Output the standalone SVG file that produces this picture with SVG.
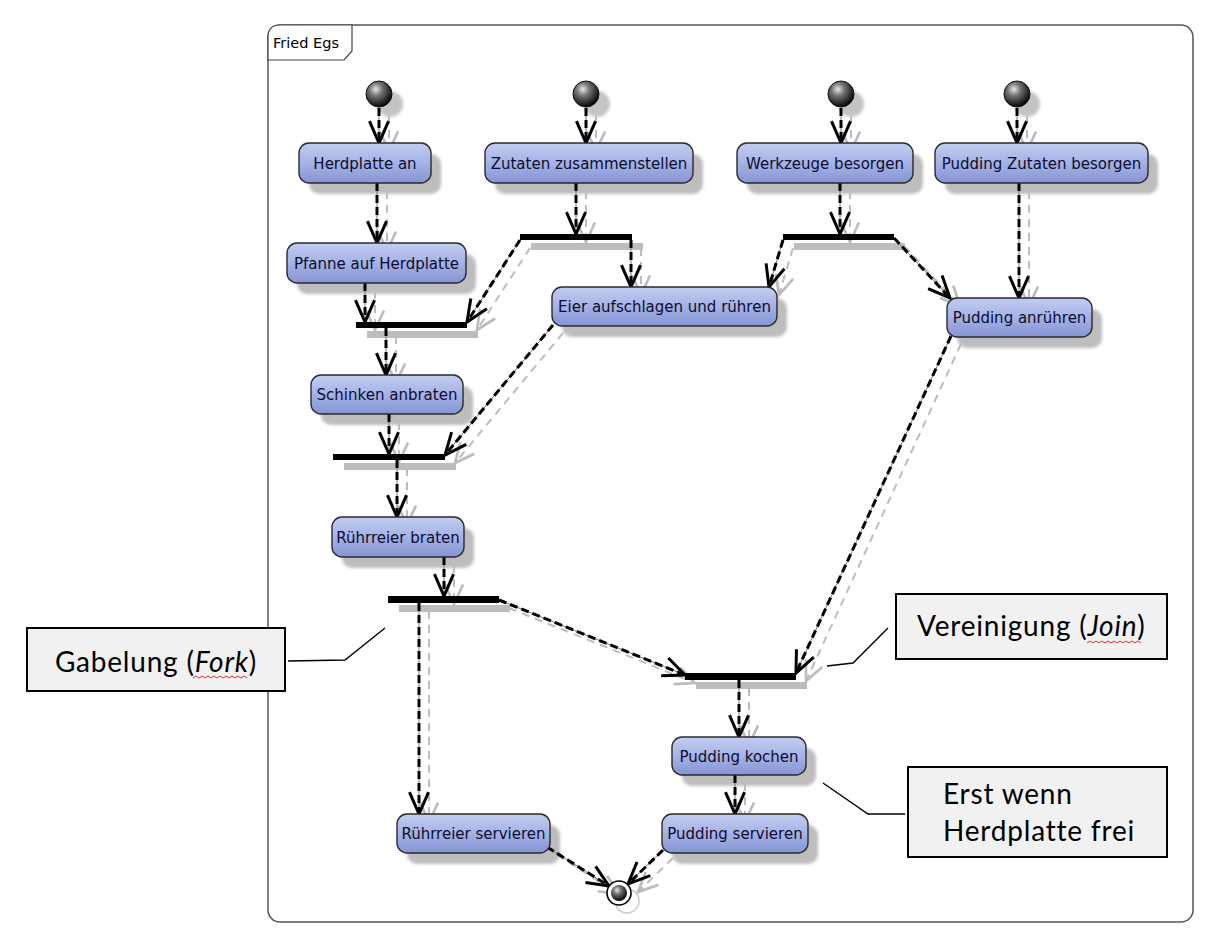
<svg xmlns="http://www.w3.org/2000/svg" xmlns:xlink="http://www.w3.org/1999/xlink" width="1214" height="948" viewBox="0 0 1214 948">
<style>
.frame{fill:#fff;stroke:#555;stroke-width:1.5}
.tab{fill:#fff;stroke:#444;stroke-width:1.2}
.title{font-family:"DejaVu Sans",sans-serif;font-size:14.5px;fill:#000}
.nshadow{fill:#bdbdbd;filter:url(#blur)}
.node{fill:url(#ng);stroke:#2a2a2a;stroke-width:1.4}
.lbl{font-family:"DejaVu Sans",sans-serif;font-size:15px;fill:#0c0c2c;text-anchor:middle}
.bar{fill:#000}
.barsh{fill:#bdbdbd}
.sh{fill:none;stroke:#bcbcbc;stroke-width:2;stroke-dasharray:8 6;marker-end:url(#ahg)}
.base{fill:none;stroke:#777;stroke-width:1}
.dash{fill:none;stroke:#000;stroke-width:3;stroke-dasharray:8 4;marker-end:url(#ah)}
.note{fill:#f1f1f1;stroke:#000;stroke-width:2}
.ntxt{font-family:Lato,"Open Sans",sans-serif;font-size:28px;letter-spacing:0.8px;fill:#000}
.lead{fill:none;stroke:#000;stroke-width:1.4}
.squig{fill:none;stroke:#e03030;stroke-width:1}
</style>
<defs>
<linearGradient id="ng" x1="0" y1="0" x2="0" y2="1">
<stop offset="0" stop-color="#c3cdf1"/>
<stop offset="0.5" stop-color="#a5b2e6"/>
<stop offset="1" stop-color="#8595d4"/>
</linearGradient>
<radialGradient id="ball" cx="0.38" cy="0.32" r="0.7">
<stop offset="0" stop-color="#e8e8e8"/>
<stop offset="0.35" stop-color="#777"/>
<stop offset="1" stop-color="#000"/>
</radialGradient>
<filter id="blur" x="-10%" y="-20%" width="120%" height="140%"><feGaussianBlur stdDeviation="1.5"/></filter>
<marker id="ah" markerUnits="userSpaceOnUse" markerWidth="30" markerHeight="30" viewBox="-18 -10 22 20" refX="0" refY="0" orient="auto">
<path d="M-16,-7 L0,0 L-16,7" fill="none" stroke="#000" stroke-width="2.2" stroke-dasharray="none"/>
</marker>
<marker id="ahg" markerUnits="userSpaceOnUse" markerWidth="30" markerHeight="30" viewBox="-16 -10 20 20" refX="0" refY="0" orient="auto">
<path d="M-13,-6 L0,0 L-13,6" fill="none" stroke="#bcbcbc" stroke-width="1.8" stroke-dasharray="none"/>
</marker>
<path id="c1" d="M379,108 L379,143"/>
<path id="c2" d="M586,108 L586,143"/>
<path id="c3" d="M841,108 L841,143"/>
<path id="c4" d="M1017,108 L1017,143"/>
<path id="c5" d="M377,183 L377,243"/>
<path id="c6" d="M576,183 L576,234"/>
<path id="c7" d="M631,240 L631,287"/>
<path id="c8" d="M520,240 L467,322"/>
<path id="c9" d="M365,283 L365,322"/>
<path id="c10" d="M840,183 L840,234"/>
<path id="c11" d="M783,240 L769,287"/>
<path id="c12" d="M894,238 L950,298"/>
<path id="c13" d="M1019,183 L1019,298"/>
<path id="c14" d="M386,328 L386,375"/>
<path id="c15" d="M389,414 L389,454"/>
<path id="c16" d="M553,325 L445,455"/>
<path id="c17" d="M397,460 L397,517"/>
<path id="c18" d="M444,557 L444,596"/>
<path id="c19" d="M419,603 L419,814"/>
<path id="c20" d="M499,600 L685,675"/>
<path id="c21" d="M951,336 L796,673"/>
<path id="c22" d="M739,680 L739,737"/>
<path id="c23" d="M735,775 L735,814"/>
<path id="c24" d="M547,847 L609,886"/>
<path id="c25" d="M663,850 L628,884"/>
</defs>

<g id="frame">
<rect class="frame" x="268" y="25" width="925" height="897" rx="12"/>
<path class="tab" d="M268,60 L268,37 Q268,25 280,25 L352,25 L352,51 L344,60 Z"/>
<text class="title" x="273" y="48">Fried Egs</text>
</g>

<g id="shadows">
<circle cx="390" cy="104" r="13" fill="#c4c4c4" filter="url(#blur)"/>
<circle cx="597" cy="104" r="13" fill="#c4c4c4" filter="url(#blur)"/>
<circle cx="851" cy="104" r="13" fill="#c4c4c4" filter="url(#blur)"/>
<circle cx="1027" cy="104" r="13" fill="#c4c4c4" filter="url(#blur)"/>
<rect class="nshadow" x="309" y="154" width="132" height="40" rx="10"/>
<rect class="nshadow" x="495" y="154" width="208" height="40" rx="10"/>
<rect class="nshadow" x="747" y="154" width="176" height="40" rx="10"/>
<rect class="nshadow" x="945" y="154" width="213" height="40" rx="10"/>
<rect class="nshadow" x="297" y="254" width="179" height="40" rx="10"/>
<rect class="nshadow" x="562" y="298" width="225" height="39" rx="10"/>
<rect class="nshadow" x="957" y="309" width="145" height="39" rx="10"/>
<rect class="nshadow" x="321" y="386" width="152" height="39" rx="10"/>
<rect class="nshadow" x="342" y="528" width="132" height="40" rx="10"/>
<rect class="nshadow" x="682" y="748" width="134" height="38" rx="10"/>
<rect class="nshadow" x="407" y="825" width="153" height="39" rx="10"/>
<rect class="nshadow" x="672" y="825" width="146" height="39" rx="10"/>
<rect class="barsh" x="531" y="243" width="112" height="7"/>
<rect class="barsh" x="794" y="243" width="111" height="7"/>
<rect class="barsh" x="367" y="331" width="111" height="7"/>
<rect class="barsh" x="344" y="463" width="112" height="7"/>
<rect class="barsh" x="399" y="605" width="111" height="7"/>
<rect class="barsh" x="696" y="682" width="111" height="7"/>
<circle cx="627" cy="901" r="12" fill="none" stroke="#c8c8c8" stroke-width="1.5"/>
</g>

<g id="connectors">
<g id="connector-shadows" transform="translate(10,8)">
<use xlink:href="#c1" class="sh"/><use xlink:href="#c2" class="sh"/><use xlink:href="#c3" class="sh"/><use xlink:href="#c4" class="sh"/>
<use xlink:href="#c5" class="sh"/><use xlink:href="#c6" class="sh"/><use xlink:href="#c7" class="sh"/><use xlink:href="#c8" class="sh"/>
<use xlink:href="#c9" class="sh"/><use xlink:href="#c10" class="sh"/><use xlink:href="#c11" class="sh"/><use xlink:href="#c12" class="sh"/>
<use xlink:href="#c13" class="sh"/><use xlink:href="#c14" class="sh"/><use xlink:href="#c15" class="sh"/><use xlink:href="#c16" class="sh"/>
<use xlink:href="#c17" class="sh"/><use xlink:href="#c18" class="sh"/><use xlink:href="#c19" class="sh"/><use xlink:href="#c20" class="sh"/>
<use xlink:href="#c21" class="sh"/><use xlink:href="#c22" class="sh"/><use xlink:href="#c23" class="sh"/><use xlink:href="#c24" class="sh"/>
<use xlink:href="#c25" class="sh"/>
</g>
<g id="connector-base">
<use xlink:href="#c1" class="base"/><use xlink:href="#c2" class="base"/><use xlink:href="#c3" class="base"/><use xlink:href="#c4" class="base"/>
<use xlink:href="#c5" class="base"/><use xlink:href="#c6" class="base"/><use xlink:href="#c7" class="base"/><use xlink:href="#c8" class="base"/>
<use xlink:href="#c9" class="base"/><use xlink:href="#c10" class="base"/><use xlink:href="#c11" class="base"/><use xlink:href="#c12" class="base"/>
<use xlink:href="#c13" class="base"/><use xlink:href="#c14" class="base"/><use xlink:href="#c15" class="base"/><use xlink:href="#c16" class="base"/>
<use xlink:href="#c17" class="base"/><use xlink:href="#c18" class="base"/><use xlink:href="#c19" class="base"/><use xlink:href="#c20" class="base"/>
<use xlink:href="#c21" class="base"/><use xlink:href="#c22" class="base"/><use xlink:href="#c23" class="base"/><use xlink:href="#c24" class="base"/>
<use xlink:href="#c25" class="base"/>
</g>
<g id="connector-lines">
<use xlink:href="#c1" class="dash"/><use xlink:href="#c2" class="dash"/><use xlink:href="#c3" class="dash"/><use xlink:href="#c4" class="dash"/>
<use xlink:href="#c5" class="dash"/><use xlink:href="#c6" class="dash"/><use xlink:href="#c7" class="dash"/><use xlink:href="#c8" class="dash"/>
<use xlink:href="#c9" class="dash"/><use xlink:href="#c10" class="dash"/><use xlink:href="#c11" class="dash"/><use xlink:href="#c12" class="dash"/>
<use xlink:href="#c13" class="dash"/><use xlink:href="#c14" class="dash"/><use xlink:href="#c15" class="dash"/><use xlink:href="#c16" class="dash"/>
<use xlink:href="#c17" class="dash"/><use xlink:href="#c18" class="dash"/><use xlink:href="#c19" class="dash"/><use xlink:href="#c20" class="dash"/>
<use xlink:href="#c21" class="dash"/><use xlink:href="#c22" class="dash"/><use xlink:href="#c23" class="dash"/><use xlink:href="#c24" class="dash"/>
<use xlink:href="#c25" class="dash"/>
</g>
</g>

<g id="start1"><circle cx="379" cy="94" r="13" fill="url(#ball)" stroke="#111" stroke-width="1"/></g>
<g id="start2"><circle cx="586" cy="94" r="13" fill="url(#ball)" stroke="#111" stroke-width="1"/></g>
<g id="start3"><circle cx="841" cy="94" r="13" fill="url(#ball)" stroke="#111" stroke-width="1"/></g>
<g id="start4"><circle cx="1017" cy="94" r="13" fill="url(#ball)" stroke="#111" stroke-width="1"/></g>

<g id="n-herdplatte-an"><rect class="node" x="299" y="143" width="132" height="40" rx="10"/><text class="lbl" x="365" y="168.5">Herdplatte an</text></g>
<g id="n-zutaten"><rect class="node" x="485" y="143" width="208" height="40" rx="10"/><text class="lbl" x="589" y="168.5">Zutaten zusammenstellen</text></g>
<g id="n-werkzeuge"><rect class="node" x="737" y="143" width="176" height="40" rx="10"/><text class="lbl" x="825" y="168.5">Werkzeuge besorgen</text></g>
<g id="n-pudding-zutaten"><rect class="node" x="935" y="143" width="213" height="40" rx="10"/><text class="lbl" x="1041.5" y="168.5">Pudding Zutaten besorgen</text></g>
<g id="n-pfanne"><rect class="node" x="287" y="243" width="179" height="40" rx="10"/><text class="lbl" x="376.5" y="268.5">Pfanne auf Herdplatte</text></g>
<g id="n-eier"><rect class="node" x="552" y="287" width="225" height="39" rx="10"/><text class="lbl" x="664.5" y="312">Eier aufschlagen und rühren</text></g>
<g id="n-pudding-anruehren"><rect class="node" x="947" y="298" width="145" height="39" rx="10"/><text class="lbl" x="1019.5" y="323">Pudding anrühren</text></g>
<g id="n-schinken"><rect class="node" x="311" y="375" width="152" height="39" rx="10"/><text class="lbl" x="387" y="400">Schinken anbraten</text></g>
<g id="n-ruehreier-braten"><rect class="node" x="332" y="517" width="132" height="40" rx="10"/><text class="lbl" x="398" y="542.5">Rührreier braten</text></g>
<g id="n-pudding-kochen"><rect class="node" x="672" y="737" width="134" height="38" rx="10"/><text class="lbl" x="739" y="761.5">Pudding kochen</text></g>
<g id="n-ruehreier-servieren"><rect class="node" x="397" y="814" width="153" height="39" rx="10"/><text class="lbl" x="473.5" y="839">Rührreier servieren</text></g>
<g id="n-pudding-servieren"><rect class="node" x="662" y="814" width="146" height="39" rx="10"/><text class="lbl" x="735" y="839">Pudding servieren</text></g>

<g id="bar1"><rect class="bar" x="520" y="234" width="112" height="6"/></g>
<g id="bar2"><rect class="bar" x="783" y="234" width="111" height="6"/></g>
<g id="bar3"><rect class="bar" x="356" y="322" width="111" height="6"/></g>
<g id="bar4"><rect class="bar" x="333" y="454" width="112" height="6"/></g>
<g id="fork"><rect class="bar" x="388" y="596" width="111" height="7"/></g>
<g id="join"><rect class="bar" x="685" y="673" width="111" height="7"/></g>

<g id="end"><circle cx="619" cy="893" r="12" fill="#fff" stroke="#000" stroke-width="1.6"/><circle cx="619" cy="893" r="8" fill="url(#ball)"/></g>

<g id="note-fork">
<rect class="note" x="27" y="628" width="258" height="63"/>
<text class="ntxt" x="156" y="672" text-anchor="middle">Gabelung (<tspan font-style="italic">Fork</tspan>)</text>
<path class="squig" d="M193,678 l3,-2 l3,2 l3,-2 l3,2 l3,-2 l3,2 l3,-2 l3,2 l3,-2 l3,2 l3,-2 l3,2 l3,-2 l3,2 l3,-2 l3,2 l3,-2 l3,2"/>
<path class="lead" d="M288,661 L345,660 L385,628"/>
</g>
<g id="note-join">
<rect class="note" x="896" y="594" width="271" height="65"/>
<text class="ntxt" x="917" y="636">Vereinigung (<tspan font-style="italic">Join</tspan>)</text>
<path class="squig" d="M1087,643 l3,-2 l3,2 l3,-2 l3,2 l3,-2 l3,2 l3,-2 l3,2 l3,-2 l3,2 l3,-2 l3,2 l3,-2 l3,2 l3,-2 l3,2 l3,-2 l3,2"/>
<path class="lead" d="M827,666 L853,663 L888,628"/>
</g>
<g id="note-herdplatte">
<rect class="note" x="908" y="767" width="259" height="90"/>
<text class="ntxt" x="943" y="804">Erst wenn</text>
<text class="ntxt" x="943" y="841">Herdplatte frei</text>
<path class="lead" d="M823,783 L868,814 L905,814"/>
</g>
</svg>
